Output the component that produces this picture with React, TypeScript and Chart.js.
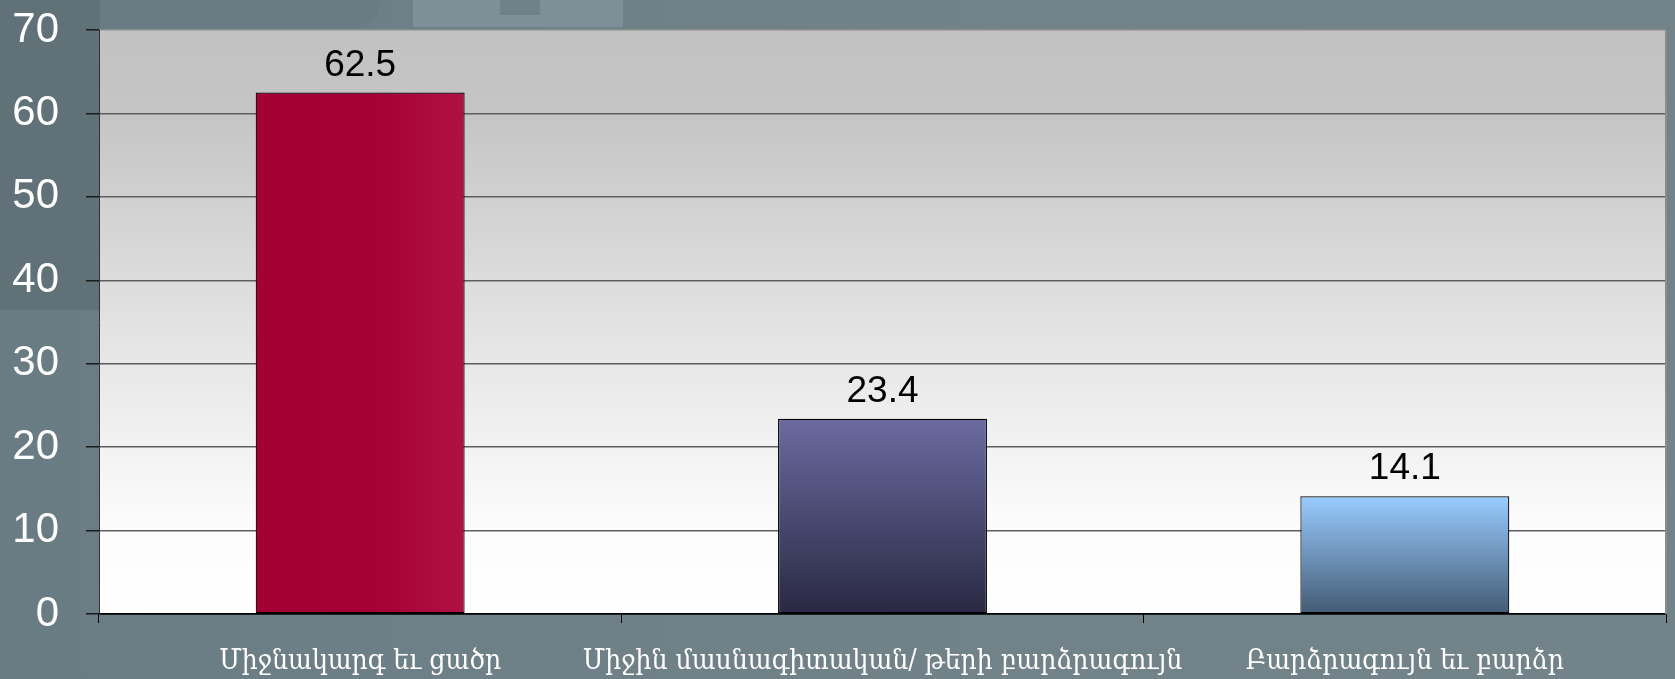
import React, { useEffect, useRef } from "react";
import { Chart, registerables } from "chart.js";

Chart.register(...registerables);

const categories = [
  "Միջնակարգ եւ ցածր",
  "Միջին մասնագիտական/ թերի բարձրագույն",
  "Բարձրագույն եւ բարձր",
];
const values = [62.5, 23.4, 14.1];
const yMin = 0;
const yMax = 70;
const yStep = 10;

const barTopColors = ["#a40033", "#6b6ba1", "#99ccff"];
const barBottomColors = ["#b11142", "#292943", "#435a74"];

const plotBgPlugin = {
  id: "plotBg",
  beforeDraw(chart: any) {
    const { ctx, chartArea } = chart;
    if (!chartArea) return;
    const g = ctx.createLinearGradient(0, chartArea.top, 0, chartArea.bottom);
    g.addColorStop(0, "#c2c2c2");
    g.addColorStop(0.15, "#c5c5c5");
    g.addColorStop(0.55, "#e6e6e6");
    g.addColorStop(0.85, "#fcfcfc");
    g.addColorStop(1, "#ffffff");
    ctx.save();
    ctx.fillStyle = g;
    ctx.fillRect(chartArea.left, chartArea.top, chartArea.right - chartArea.left, chartArea.bottom - chartArea.top);
    ctx.restore();
  },
  afterDraw(chart: any) {
    const { ctx, chartArea } = chart;
    ctx.save();
    ctx.strokeStyle = "#8c8c8c";
    ctx.lineWidth = 2;
    ctx.beginPath();
    ctx.moveTo(chartArea.right, chartArea.top);
    ctx.lineTo(chartArea.right, chartArea.bottom);
    ctx.stroke();
    ctx.restore();
  },
};

const dataLabelPlugin = {
  id: "dataLabels",
  afterDatasetsDraw(chart: any) {
    const { ctx } = chart;
    const meta = chart.getDatasetMeta(0);
    ctx.save();
    ctx.font = '37px "Liberation Sans", Arial, sans-serif';
    ctx.fillStyle = "#000000";
    ctx.textAlign = "center";
    ctx.textBaseline = "alphabetic";
    meta.data.forEach((el: any, i: number) => {
      ctx.fillText(values[i].toFixed(1), el.x, el.y - 17);
    });
    ctx.restore();
  },
};

function barFill(context: any) {
  const chart = context.chart;
  const i = context.dataIndex;
  const xs = chart.scales?.x;
  const ys = chart.scales?.y;
  if (!chart.chartArea || !xs || !ys || i === undefined) return barTopColors[i ?? 0];
  const ctx = chart.ctx;
  if (i === 0) {
    const cx = xs.getPixelForValue(0);
    const half = ((chart.chartArea.right - chart.chartArea.left) / categories.length) * 0.2;
    const g = ctx.createLinearGradient(cx - half, 0, cx + half, 0);
    g.addColorStop(0, barTopColors[0]);
    g.addColorStop(0.55, "#a60036");
    g.addColorStop(1, barBottomColors[0]);
    return g;
  }
  const top = ys.getPixelForValue(values[i]);
  const bottom = ys.getPixelForValue(0);
  const g = ctx.createLinearGradient(0, top, 0, bottom);
  g.addColorStop(0, barTopColors[i]);
  g.addColorStop(1, barBottomColors[i]);
  return g;
}

export default function App() {
  const ref = useRef<HTMLCanvasElement | null>(null);

  useEffect(() => {
    if (!ref.current) return;
    const chart = new Chart(ref.current, {
      type: "bar",
      data: {
        labels: categories,
        datasets: [
          {
            data: values,
            backgroundColor: barFill as any,
            borderColor: "#000000",
            borderWidth: 1.2,
            borderSkipped: false,
            categoryPercentage: 1,
            barPercentage: 0.4,
          },
        ],
      },
      options: {
        responsive: false,
        animation: false,
        layout: { padding: { top: 30, right: 9, left: 0, bottom: 0 } },
        plugins: {
          legend: { display: false },
          tooltip: { enabled: false },
        },
        scales: {
          x: {
            offset: true,
            grid: {
              display: true,
              drawOnChartArea: false,
              drawTicks: true,
              tickLength: 9,
              tickColor: "#000000",
              tickWidth: 1,
              offset: true,
            },
            border: { display: true, color: "#000000", width: 1.5 },
            ticks: {
              color: "#ffffff",
              font: { family: '"DejaVu Serif Condensed", "DejaVu Serif", serif', size: 28 },
              padding: 22,
              maxRotation: 0,
              autoSkip: false,
            },
            afterFit(scale: any) {
              scale.height = 65;
              scale.paddingLeft = 0;
              scale.paddingRight = 0;
            },
          },
          y: {
            min: yMin,
            max: yMax,
            ticks: {
              stepSize: yStep,
              color: "#ffffff",
              font: { family: '"Liberation Sans", Arial, sans-serif', size: 42 },
              padding: 27,
            },
            grid: {
              color: (c: any) => (c.tick && c.tick.value === yMax ? "#8c8c8c" : c.tick && c.tick.value === 0 ? "#000000" : "#5e5e5e"),
              lineWidth: 1.5,
              tickLength: 13,
              tickColor: "#1a1a1a",
            },
            border: { display: true, color: "#333333", width: 1 },
            afterFit(scale: any) {
              scale.width = 99;
              scale.paddingTop = 0;
              scale.paddingBottom = 0;
            },
          },
        },
      },
      plugins: [plotBgPlugin, dataLabelPlugin],
    });
    return () => chart.destroy();
  }, []);

  return (
    <div
      style={{
        position: "fixed",
        left: 0,
        top: 0,
        width: 1675,
        height: 679,
        overflow: "hidden",
        background: "linear-gradient(90deg, #6a7c83 0%, #6e8087 25%, #718388 60%, #728489 100%)",
      }}
    >
      <div style={{ position: "absolute", left: 0, top: 0, width: 100, height: 310, background: "#607278" }} />
      <div style={{ position: "absolute", left: 100, top: 0, width: 280, height: 30, borderBottomRightRadius: 30, background: "#6a7c83" }} />
      <div style={{ position: "absolute", left: 413, top: 0, width: 210, height: 27, background: "#7d9097" }} />
      <div style={{ position: "absolute", left: 500, top: 0, width: 40, height: 15, background: "#6f8288" }} />
      <canvas ref={ref} width={1675} height={679} style={{ position: "absolute", left: 0, top: 0 }} />
    </div>
  );
}
